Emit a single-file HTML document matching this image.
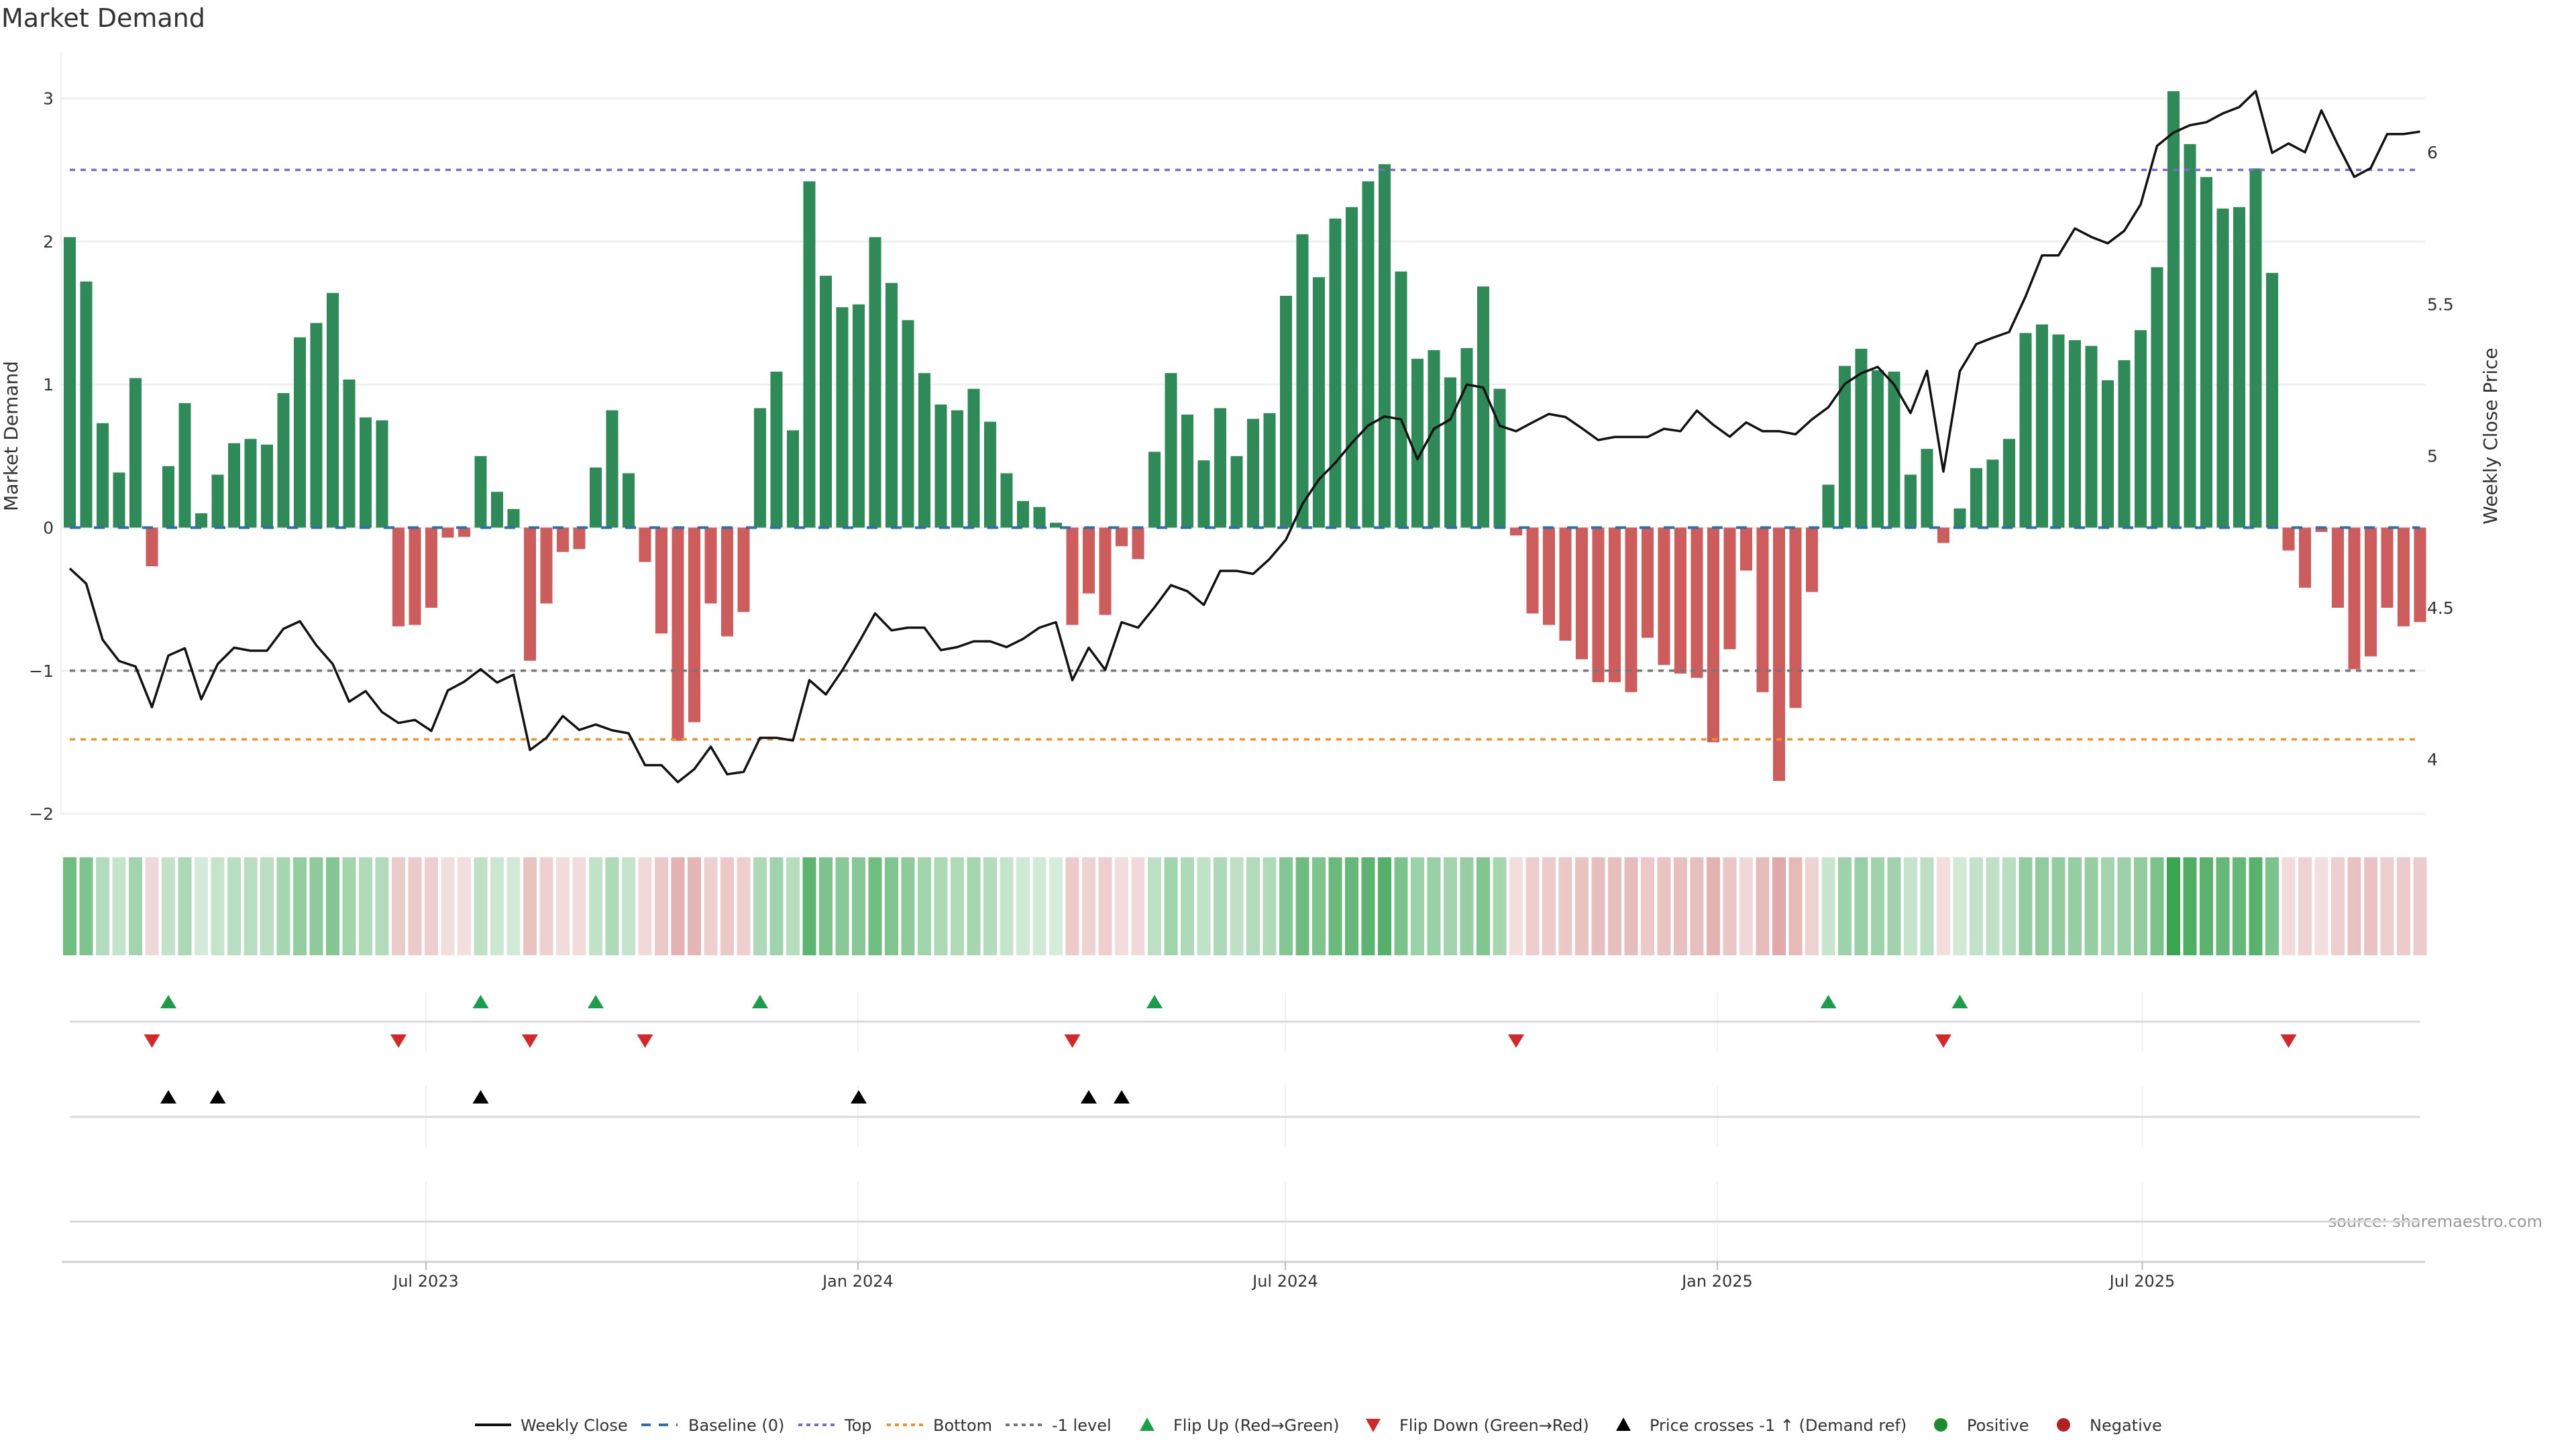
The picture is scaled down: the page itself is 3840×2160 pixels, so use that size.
<!DOCTYPE html>
<html><head><meta charset="utf-8"><title>Market Demand</title>
<style>
html,body{margin:0;padding:0;background:#fff;}
svg{display:block;font-family:"DejaVu Sans","Liberation Sans",sans-serif;}
</style></head>
<body>
<svg id="chart" xmlns="http://www.w3.org/2000/svg" width="3840" height="2160" viewBox="0 0 3840 2160">
<rect width="3840" height="2160" fill="#fff"/>
<text x="2" y="40" font-size="38" fill="#333">Market Demand</text>
<text transform="translate(26,650) rotate(-90)" text-anchor="middle" font-size="28" fill="#333">Market Demand</text>
<text transform="translate(3722,650) rotate(-90)" text-anchor="middle" font-size="28" fill="#333">Weekly Close Price</text>
<text x="3790" y="1829" text-anchor="end" font-size="24" fill="#999">source: sharemaestro.com</text>
<g id="grid"></g>
<g id="bars"></g>
<g id="refs"></g>
<g id="line"></g>
<g id="heat"></g>
<g id="markers"></g>
<g id="axes"></g>
<g id="legend"></g>
</svg>
<script>
// ---- data ----
const demandValues = [2.03,1.72,0.73,0.385,1.045,-0.27,0.43,0.87,0.10,0.37,0.59,0.62,0.58,0.94,1.33,1.43,1.64,1.035,0.77,0.75,
-0.69,-0.68,-0.56,-0.07,-0.065,0.50,0.25,0.13,-0.93,-0.53,-0.17,-0.15,0.42,0.82,0.38,-0.24,-0.74,-1.49,-1.36,-0.53,
-0.76,-0.59,0.835,1.09,0.68,2.42,1.76,1.54,1.56,2.03,1.71,1.45,1.08,0.86,0.82,0.97,0.74,0.38,0.186,0.144,
0.034,-0.68,-0.46,-0.61,-0.13,-0.22,0.53,1.08,0.79,0.47,0.835,0.50,0.76,0.80,1.62,2.05,1.75,2.16,2.24,2.42,
2.54,1.79,1.18,1.24,1.05,1.255,1.685,0.97,-0.055,-0.60,-0.68,-0.79,-0.92,-1.08,-1.08,-1.15,-0.77,-0.96,-1.02,-1.05,
-1.50,-0.85,-0.30,-1.15,-1.77,-1.26,-0.45,0.30,1.13,1.25,1.10,1.09,0.37,0.55,-0.107,0.134,0.416,0.475,0.62,1.36,
1.42,1.35,1.31,1.27,1.03,1.17,1.38,1.82,3.05,2.68,2.45,2.23,2.24,2.51,1.78,-0.16,-0.42,-0.03,-0.56,-0.99,
-0.90,-0.56,-0.69,-0.66];
const closePrices = [4.629,4.579,4.394,4.324,4.306,4.172,4.342,4.366,4.198,4.314,4.368,4.358,4.358,4.430,4.455,4.376,4.314,4.190,4.225,4.156,
4.120,4.130,4.094,4.227,4.256,4.297,4.253,4.279,4.031,4.071,4.143,4.097,4.115,4.096,4.086,3.981,3.981,3.925,3.968,4.042,
3.951,3.959,4.071,4.071,4.062,4.261,4.214,4.293,4.384,4.481,4.425,4.434,4.434,4.360,4.370,4.389,4.389,4.370,4.397,4.434,
4.452,4.261,4.368,4.295,4.452,4.434,4.501,4.574,4.554,4.509,4.621,4.621,4.611,4.660,4.724,4.841,4.922,4.977,5.042,5.100,
5.130,5.120,4.989,5.089,5.120,5.235,5.225,5.099,5.081,5.110,5.138,5.128,5.091,5.052,5.062,5.062,5.062,5.089,5.081,5.149,
5.102,5.063,5.110,5.081,5.081,5.071,5.120,5.160,5.237,5.272,5.293,5.235,5.141,5.280,4.948,5.279,5.368,5.389,5.408,5.525,
5.660,5.660,5.749,5.721,5.700,5.741,5.828,6.021,6.065,6.089,6.099,6.128,6.149,6.201,5.998,6.029,6.000,6.138,6.024,5.919,
5.948,6.060,6.060,6.068];
const flipUpIdx = [6,25,32,42,66,107,115];
const flipDownIdx = [5,20,28,35,61,88,114,135];
const priceCrossIdx = [6,9,25,48,62,64];
const demandTicks = [3,2,1,0,-1,-2];
const demandTickLabels = ["3","2","1","0","\u22121","\u22122"];
const priceTicks = [6,5.5,5,4.5,4];
const priceTickLabels = ["6","5.5","5","4.5","4"];
const monthTickDays = [151.7,335.7,517.7,701.7,882.7];
const monthTickLabels = ["Jul 2023","Jan 2024","Jul 2024","Jan 2025","Jul 2025"];
const topLevel = 2.5, bottomLevel = -1.48, minusOneLevel = -1;

// ---- scales ----
const NS = "http://www.w3.org/2000/svg";
const X0 = 104, STEP = 24.5;
function xIdx(i){ return X0 + STEP*i; }
function xDay(d){ return X0 + d*3.5; }
function yDem(v){ return 786.5 - v*213.3; }
function yPrice(p){ return 227 + (6-p)*452.5; }
const XL = 91, XR = 3615;
function mk(tag, attrs, parent){
  const e = document.createElementNS(NS, tag);
  for (const k in attrs) e.setAttribute(k, attrs[k]);
  parent.appendChild(e); return e;
}
const G = id => document.getElementById(id);

// grid
const grid = G('grid');
demandTicks.forEach((t,i)=>{
  const l = mk('line',{x1:XL,x2:XR,y1:yDem(t),y2:yDem(t),stroke:'#eef0f2','stroke-width':3},grid);
  
  
  const tx = mk('text',{x:80,y:yDem(t)+9,'text-anchor':'end','font-size':25,fill:'#333'},grid);
  tx.textContent = demandTickLabels[i];
  
  
});
priceTicks.forEach((t,i)=>{
  const tx = mk('text',{x:3618,y:yPrice(t)+9,'font-size':25,fill:'#333'},grid);
  tx.textContent = priceTickLabels[i];
  
  
});
const yax = mk('line',{x1:XL,x2:XL,y1:78,y2:1215,stroke:'#eceef0','stroke-width':2},grid);



// bars
const bars = G('bars');
demandValues.forEach((v,i)=>{
  const y0 = yDem(0), y1 = yDem(v);
  const r = mk('rect',{x:xIdx(i)-9,y:Math.min(y0,y1),width:18,height:Math.max(1,Math.abs(y1-y0)),fill:v>=0?'#2e8b57':'#cd5c5c'},bars);
  
  
});

// reference lines
const refs = G('refs');
const rl = [[0,'#2f6fa8','16 20',4,'baseline-line'],[topLevel,'#7b68d0','8 8',3.5,'top-line'],[bottomLevel,'#f0902a','8 8',3.5,'bottom-line'],[minusOneLevel,'#777','8 8',3.5,'minus-one-line']];
rl.forEach(r=>{
  const l = mk('line',{x1:X0,x2:xIdx(demandValues.length-1),y1:yDem(r[0]),y2:yDem(r[0]),stroke:r[1],'stroke-dasharray':r[2],'stroke-width':r[3]},refs);
  
  
});

// price line
const pts = closePrices.map((p,i)=>xIdx(i).toFixed(1)+','+yPrice(p).toFixed(1)).join(' ');
const pl = mk('polyline',{points:pts,fill:'none',stroke:'#111','stroke-width':3.5,'stroke-linejoin':'round'},G('line'));



// heat strip
const heat = G('heat');
demandValues.forEach((v,i)=>{
  let c;
  if (v>=0){ const a = Math.min(1,0.2+0.8*v/3.05); c = `rgb(${Math.round(255-a*196)},${Math.round(255-a*90)},${Math.round(255-a*173)})`; }
  else { const a = Math.min(0.6,0.2+0.3*(-v)/1.5); c = `rgb(${Math.round(255-a*55)},${Math.round(255-a*155)},${Math.round(255-a*155)})`; }
  const r = mk('rect',{x:xIdx(i)-10,y:1278,width:20,height:146,fill:c},heat);
  
  
});

// marker panels
const mkG = G('markers');
monthTickDays.forEach(d=>{
  [[1479,1568],[1619,1709],[1762,1881]].forEach(s=>{
    const l = mk('line',{x1:xDay(d),x2:xDay(d),y1:s[0],y2:s[1],stroke:'#f0f1f3','stroke-width':2},mkG);
    
    
  });
});
[1523,1665,1821].forEach(y=>{
  const l = mk('line',{x1:X0,x2:xIdx(demandValues.length-1),y1:y,y2:y,stroke:'#d8d8d8','stroke-width':3},mkG);
  
  
});
function tri(x,y,up,fill,name){
  const d = up ? `M${x-12},${y+9} L${x+12},${y+9} L${x},${y-11} Z` : `M${x-12},${y-9} L${x+12},${y-9} L${x},${y+11} Z`;
  const p = mk('path',{d:d,fill:fill},mkG);
  
  
}
flipUpIdx.forEach(i=>tri(xIdx(i),1494,true,'#1a9e4a','flip-up-marker'));
flipDownIdx.forEach(i=>tri(xIdx(i),1551,false,'#d62728','flip-down-marker'));
priceCrossIdx.forEach(i=>tri(xIdx(i),1636,true,'#000','price-cross-marker'));

// x axis
const ax = G('axes');
const xa = mk('line',{x1:92,x2:XR,y1:1881,y2:1881,stroke:'#d0d0d0','stroke-width':3},ax);


monthTickDays.forEach((d,i)=>{
  const t = mk('line',{x1:xDay(d),x2:xDay(d),y1:1881,y2:1893,stroke:'#bbb','stroke-width':2},ax);
  
  
  const tx = mk('text',{x:xDay(d),y:1918,'text-anchor':'middle','font-size':24,fill:'#333'},ax);
  tx.textContent = monthTickLabels[i];
  
  
});

// legend
const lg = G('legend');
const LY = 2124;
function ltext(x,s){ const t = mk('text',{x:x,y:LY+9,'font-size':24,fill:'#333'},lg); t.textContent=s;   }
function lline(x,color,dash,name){ const l = mk('line',{x1:x,x2:x+54,y1:LY,y2:LY,stroke:color,'stroke-width':4,'stroke-dasharray':dash},lg);   }
lline(708,'#111','none','legend-weekly-close'); ltext(776,'Weekly Close');
lline(956,'#2f6fa8','14 12','legend-baseline'); ltext(1026,'Baseline (0)');
lline(1190,'#7b68d0','6 6','legend-top'); ltext(1259,'Top');
lline(1322,'#f0902a','6 6','legend-bottom'); ltext(1391,'Bottom');
lline(1499,'#777','6 6','legend-minus-one'); ltext(1568,'-1 level');
function ltri(x,up,fill,name){
  const y=LY;
  const d = up ? `M${x-11},${y+9} L${x+11},${y+9} L${x},${y-11} Z` : `M${x-11},${y-9} L${x+11},${y-9} L${x},${y+11} Z`;
  const p = mk('path',{d:d,fill:fill},lg);  
}
ltri(1710,true,'#1a9e4a','legend-flip-up'); ltext(1749,'Flip Up (Red\u2192Green)');
ltri(2047,false,'#d62728','legend-flip-down'); ltext(2086,'Flip Down (Green\u2192Red)');
ltri(2420,true,'#000','legend-price-cross'); ltext(2459,'Price crosses -1 \u2191 (Demand ref)');
const c1 = mk('circle',{cx:2893,cy:LY,r:10,fill:'#1e8a2e'},lg);  
ltext(2932,'Positive');
const c2 = mk('circle',{cx:3076,cy:LY,r:10,fill:'#b22222'},lg);  
ltext(3115,'Negative');
</script>
</body></html>
